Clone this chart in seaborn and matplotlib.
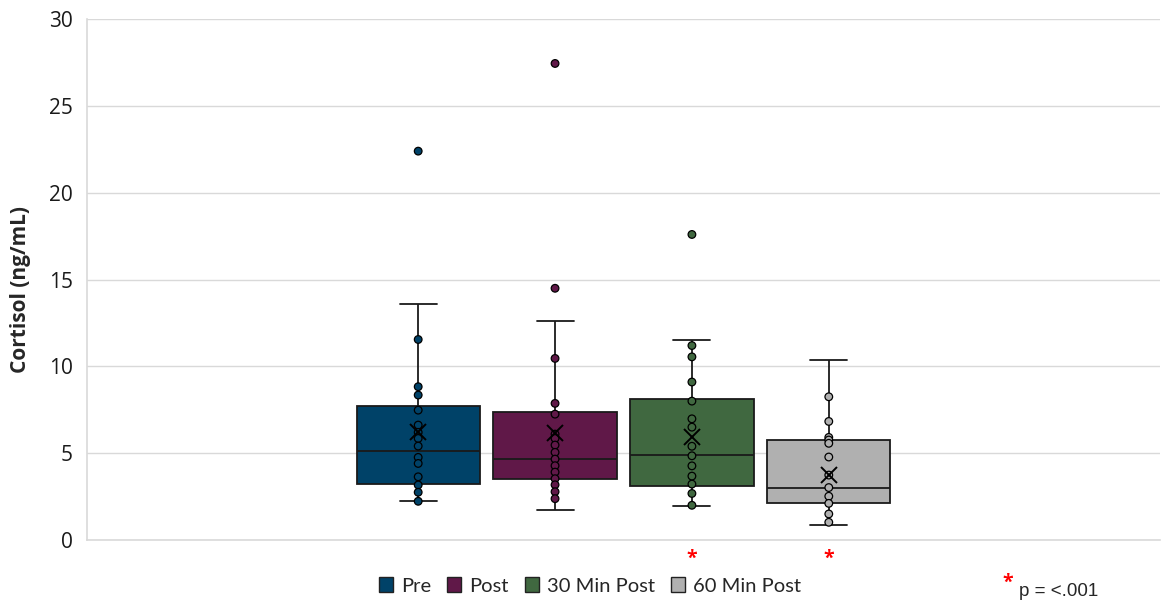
import numpy as np
import pandas as pd
import matplotlib.pyplot as plt
import seaborn as sns
from matplotlib.patches import Patch
from matplotlib.transforms import blended_transform_factory

# groups and colours
groups = ["Pre", "Post", "30 Min Post", "60 Min Post"]
colors = ["#004268", "#601848", "#406840", "#b0b0b0"]

# box summaries (ng/mL)
whisk_low = [2.23, 1.73, 1.98, 0.86]
q1 = [3.22, 3.49, 3.12, 2.11]
median = [5.10, 4.68, 4.89, 3.02]
q3 = [7.71, 7.39, 8.11, 5.74]
whisk_high = [13.57, 12.63, 11.53, 10.36]
means = [6.22, 6.18, 5.95, 3.74]

# individual points (inner points + outliers)
pre_pts = [22.4, 11.55, 8.83, 8.35, 7.48, 6.62, 6.2, 5.85, 5.41, 4.76, 4.41, 3.64, 3.17, 2.75, 2.23]
post_pts = [27.45, 14.5, 10.46, 7.87, 7.25, 6.1, 5.85, 5.47, 5.05, 4.66, 4.28, 3.91, 3.53, 3.18, 2.78, 2.38]
min30_pts = [17.6, 11.2, 10.55, 9.1, 8.0, 6.98, 6.5, 5.4, 4.85, 4.27, 3.68, 3.22, 2.68, 2.0]
min60_pts = [8.25, 6.83, 5.91, 5.76, 5.57, 4.78, 3.74, 3.02, 2.52, 2.11, 1.5, 1.02]

sig_groups = ["30 Min Post", "60 Min Post"]

sns.set_style("white")
plt.rcParams["font.family"] = ["Open Sans", "DejaVu Sans"]

# each box comes from its five summary values: with whis=(0, 100) the whiskers
# sit on min/max and the quartiles fall exactly on Q1 / median / Q3
box_df = pd.DataFrame({
    "group": np.repeat(groups, 5),
    "value": np.column_stack([whisk_low, q1, median, q3, whisk_high]).ravel(),
})
pts_df = pd.DataFrame({
    "group": np.repeat(groups, [len(pre_pts), len(post_pts), len(min30_pts), len(min60_pts)]),
    "value": pre_pts + post_pts + min30_pts + min60_pts,
})

fig, ax = plt.subplots(figsize=(11.69, 6.0), dpi=100)
fig.subplots_adjust(left=0.0744, right=0.9923, bottom=0.1, top=0.968)

sns.boxplot(data=box_df, x="group", y="value", hue="group", order=groups,
            palette=colors, saturation=1, whis=(0, 100), width=0.9,
            linecolor="#1a1a1a", linewidth=1.3, showfliers=False,
            legend=False, capwidths=0.27, ax=ax)

sns.stripplot(data=pts_df, x="group", y="value", hue="group", order=groups,
              palette=colors, jitter=False, size=5.5, edgecolor="black",
              linewidth=0.9, legend=False, zorder=3, ax=ax)

sns.pointplot(x=groups, y=means, order=groups, color="black", marker="x",
              linestyle="none", markersize=11, markeredgewidth=1.4,
              errorbar=None, ax=ax, zorder=4)

ax.set_xlim(-2.42, 5.42)
ax.set_ylim(0, 30)
ax.set_yticks(range(0, 31, 5))
ax.set_xticks([])
ax.set_xlabel("")
ax.set_ylabel("Cortisol (ng/mL)", fontsize=15, fontweight="bold")
ax.yaxis.set_label_coords(-0.052, 0.481)
ax.tick_params(axis="y", length=0, pad=10, labelsize=15, labelcolor="#1a1a1a")
ax.yaxis.grid(True, color="#d9d9d9", linewidth=1)
ax.set_axisbelow(True)
for side in ["top", "right"]:
    ax.spines[side].set_visible(False)
for side in ["left", "bottom"]:
    ax.spines[side].set_color("#d9d9d9")
    ax.spines[side].set_linewidth(1.2)

# significance asterisks under the axis
trans = blended_transform_factory(ax.transData, ax.transAxes)
for g in sig_groups:
    ax.text(groups.index(g), -0.036, "*", color="red", ha="center", va="center",
            fontsize=14, fontweight="bold", transform=trans, clip_on=False)

handles = [Patch(facecolor=c, edgecolor="#222222", linewidth=1) for c in colors]
fig.legend(handles, groups, loc="center", bbox_to_anchor=(590 / 1169, 1 - 586 / 600),
           ncol=4, frameon=False, handlelength=0.7, handleheight=0.7,
           handletextpad=0.4, columnspacing=0.8,
           prop={"family": ["Lato", "DejaVu Sans"], "size": 14.5})

fig.text(1008 / 1169, 1 - 583 / 600, "*", color="red", fontsize=14, fontweight="bold",
         ha="center", va="center")
fig.text(1019 / 1169, 1 - 591 / 600, "p = <.001", fontsize=13.5, ha="left", va="center",
         family=["Liberation Sans", "DejaVu Sans"])

fig.savefig("out.png", dpi=100)
